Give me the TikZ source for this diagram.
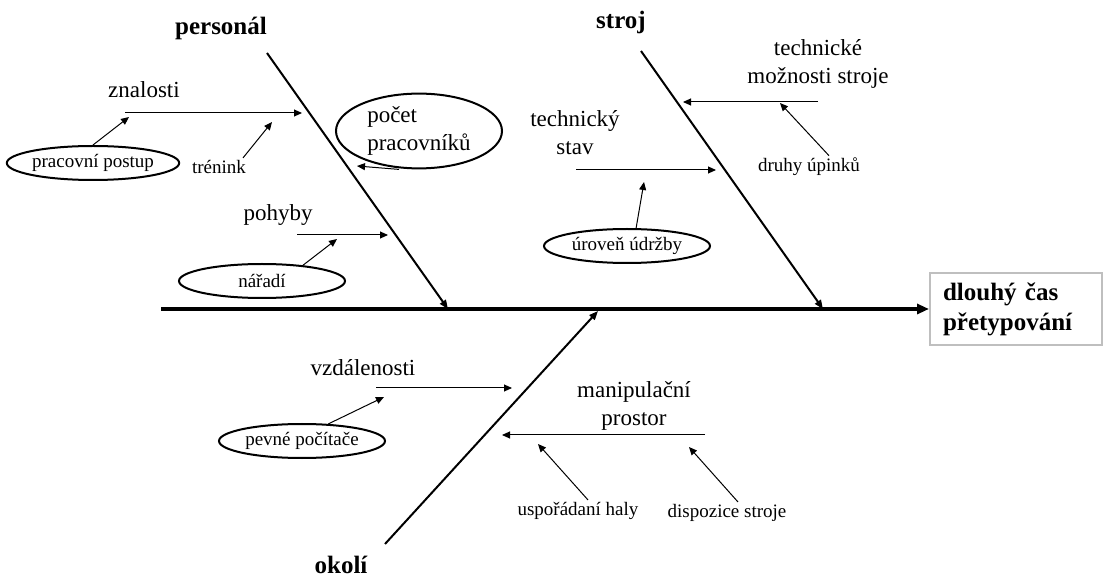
\documentclass[tikz,border=0pt]{standalone}
\usepackage{fontspec}
\setmainfont{Liberation Serif}
\usetikzlibrary{positioning, arrows.meta, shapes.geometric}

\begin{document}
\begin{tikzpicture}[
  x=0.5pt, y=-0.5pt,
  title/.style={font=\fontsize{12.5}{15}\selectfont\bfseries, inner sep=1pt},
  cause/.style={font=\fontsize{11.5}{14}\selectfont, align=center, inner sep=1pt},
  detail/.style={font=\fontsize{9.5}{11}\selectfont, inner sep=1pt},
  oval/.style={draw, ellipse, line width=1pt, inner sep=0pt, minimum width=83pt,
               minimum height=17pt, font=\fontsize{9.5}{11}\selectfont},
  effect/.style={draw=black!25, line width=1pt, minimum width=86pt, minimum height=36pt,
                 text width=73pt, inner xsep=6.5pt, align=left,
                 font=\fontsize{12.5}{15}\selectfont\bfseries},
  spine/.style={line width=2pt, -{Triangle[length=6pt, width=5pt]}},
  bone/.style={line width=1pt, -{Triangle[length=4.5pt, width=3.5pt]}},
  arrow/.style={line width=0.5pt, -{Triangle[length=4pt, width=3.5pt]}}
]
\useasboundingbox (0,0) rectangle (1104,577);

% effect and spine
\node[effect] (result) at (1016,309) {dlouhý čas\\přetypování};
\coordinate (tail) at (161,309);
\draw[spine] (tail) -- (result.west);

% categories
\node[title] (personal) at (221,28) {personál};
\node[title] (stroj) at (621,22) {stroj};
\node[title] (okoli) at (341,565) {okolí};
\coordinate (personal-top) at (267,53);
\coordinate (personal-end) at (448,309);
\coordinate (stroj-top) at (641,51);
\coordinate (stroj-end) at (823,309);
\coordinate (okoli-low) at (385,544);
\coordinate (okoli-end) at (598,311);
\draw[bone] (personal-top) -- (personal-end);
\draw[bone] (stroj-top) -- (stroj-end);
\draw[bone] (okoli-low) -- (okoli-end);

% personal
\node[cause] (znalosti) at (144,90) {znalosti};
\coordinate (znal-a) at (125,113);
\coordinate (znal-b) at (302,113);
\draw[arrow] (znal-a) -- (znal-b);
\node[oval] (postup) at (93,163) {pracovní postup};
\coordinate (postup-in) at (129,117);
\draw[arrow] (postup.north) -- (postup-in);
\node[detail] (trenink) at (219,167) {trénink};
\coordinate (trenink-in) at (272,122);
\draw[arrow] ([xshift=12pt]trenink.north) -- (trenink-in);
\node[oval, cause, minimum width=83pt, minimum height=35.5pt, align=left] (pocet) at (419,131) {počet\\pracovníků};
\coordinate (pocet-in) at (357,166);
\draw[arrow] (pocet.south) ++(-10pt,0) coordinate (pocet-out) (pocet-out) -- (pocet-in);
\node[cause] (pohyby) at (278,215) {pohyby};
\coordinate (pohyb-a) at (297,235);
\coordinate (pohyb-b) at (388,235);
\draw[arrow] (pohyb-a) -- (pohyb-b);
\node[oval, minimum height=17pt, text depth=-1pt] (naradi) at (262,281) {nářadí};
\coordinate (naradi-in) at (337,239);
\draw[arrow] (naradi.21) -- (naradi-in);

% stroj
\node[cause] (tstav) at (575,133) {technický\\stav};
\coordinate (tstav-a) at (576,170);
\coordinate (tstav-b) at (716,170);
\draw[arrow] (tstav-a) -- (tstav-b);
\node[oval] (udrzba) at (627,246) {úroveň údržby};
\coordinate (udrzba-in) at (644,182);
\draw[arrow] (udrzba.63) -- (udrzba-in);
\node[cause] (moznosti) at (818,64) {technické\\možnosti stroje};
\coordinate (mozn-a) at (818,102);
\coordinate (mozn-b) at (683,102);
\draw[arrow] (mozn-a) -- (mozn-b);
\node[detail] (upinky) at (809,167) {druhy úpinků};
\coordinate (upinky-in) at (780,103);
\draw[arrow] ([xshift=10pt]upinky.north) -- (upinky-in);

% okoli
\node[cause] (vzdal) at (363,368) {vzdálenosti};
\coordinate (vzdal-a) at (376,388);
\coordinate (vzdal-b) at (512,388);
\draw[arrow] (vzdal-a) -- (vzdal-b);
\node[oval] (pevne) at (302,441) {pevné počítače};
\coordinate (pevne-in) at (384,397);
\draw[arrow] (pevne.33) -- (pevne-in);
\node[cause] (manip) at (634,406) {manipulační\\prostor};
\coordinate (manip-a) at (705,435);
\coordinate (manip-b) at (502,435);
\draw[arrow] (manip-a) -- (manip-b);
\node[detail] (hala) at (578,511) {uspořádaní haly};
\coordinate (hala-in) at (538,444);
\draw[arrow] ([xshift=5pt]hala.north) -- (hala-in);
\node[detail] (dispozice) at (727,513) {dispozice stroje};
\coordinate (dispozice-in) at (689,447);
\draw[arrow] ([xshift=5.5pt]dispozice.north) -- (dispozice-in);
\end{tikzpicture}
\end{document}
